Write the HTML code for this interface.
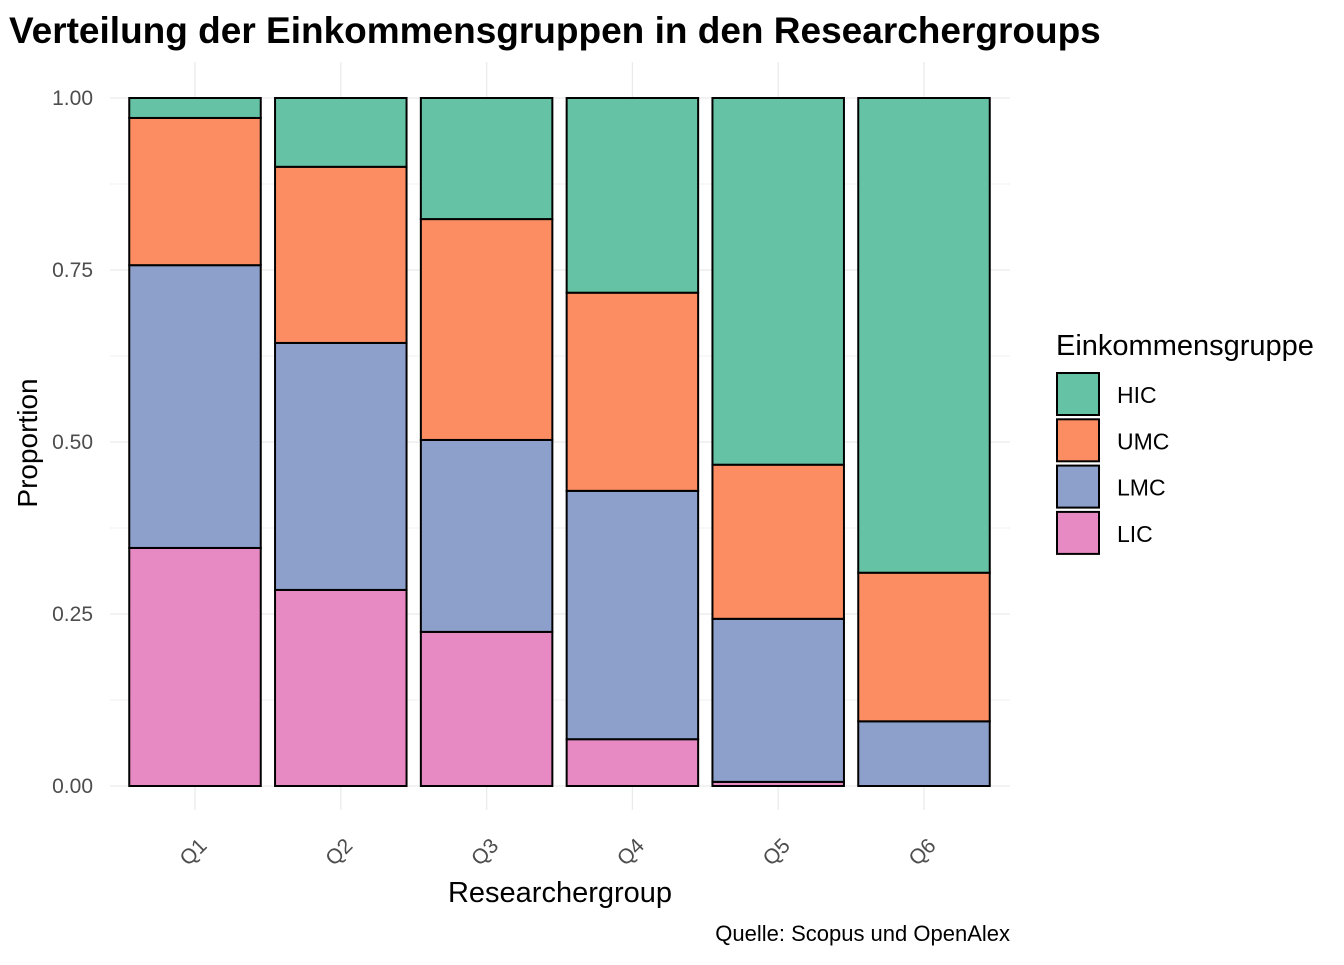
<!DOCTYPE html>
<html><head><meta charset="utf-8">
<style>
body{margin:0;background:#fff;font-family:"Liberation Sans",Arial,sans-serif;}
svg text{font-family:"Liberation Sans",Arial,sans-serif;}
</style></head>
<body>
<svg id="chart" width="1344" height="960" xmlns="http://www.w3.org/2000/svg">
<rect width="1344" height="960" fill="#fff"/>
<text x="9" y="43" font-size="37" font-weight="bold" fill="#000">Verteilung der Einkommensgruppen in den Researchergroups</text>
<g id="grid"></g>
<g id="bars"></g>
<g id="axes"></g>
<text x="560" y="902" font-size="29" text-anchor="middle" fill="#000">Researchergroup</text>
<text transform="translate(37,443) rotate(-90)" font-size="28" text-anchor="middle" fill="#000">Proportion</text>
<text x="1010" y="941" font-size="22" text-anchor="end" fill="#000">Quelle: Scopus und OpenAlex</text>
<g id="legend">
<text x="1056" y="355" font-size="29" fill="#000">Einkommensgruppe</text>
</g>
</svg>
<script>
const categories=["Q1","Q2","Q3","Q4","Q5","Q6"];
const groups=["LIC","LMC","UMC","HIC"];
const LIC=[0.346,0.285,0.224,0.068,0.006,0.0];
const LMC=[0.411,0.359,0.279,0.361,0.237,0.094];
const UMC=[0.214,0.256,0.321,0.288,0.224,0.216];
const HIC=[0.029,0.100,0.176,0.283,0.533,0.690];
const yTicks=[0,0.25,0.5,0.75,1];
const yTickLabels=["0.00","0.25","0.50","0.75","1.00"];
const legendOrder=["HIC","UMC","LMC","LIC"];

const colors={HIC:"#66c2a5",UMC:"#fc8d62",LMC:"#8da0cb",LIC:"#e78ac3"};
const series={LIC,LMC,UMC,HIC};
const NS="http://www.w3.org/2000/svg";
const plotL=110,plotR=1010,y0=786,y1=98;
const step=145.8, first=195;
const xC=i=>first+i*step;
const barW=131.5;
const y=v=>y0-(y0-y1)*v;
function mk(tag,attrs,parent){const e=document.createElementNS(NS,tag);for(const k in attrs)e.setAttribute(k,attrs[k]);parent.appendChild(e);return e;}
const grid=document.getElementById('grid'),bars=document.getElementById('bars'),axes=document.getElementById('axes'),legend=document.getElementById('legend');
for(let v=0;v<=1.0001;v+=0.125){
  const l=mk('line',{x1:plotL,x2:plotR,y1:y(v),y2:y(v),stroke:'#ebebeb','stroke-width':(Math.round(v*8)%2===0)?1.3:0.7},grid);
  
  
}
categories.forEach((c,i)=>{
  const l=mk('line',{x1:xC(i),x2:xC(i),y1:62,y2:810,stroke:'#ebebeb','stroke-width':1.3},grid);
  
  
});
categories.forEach((c,i)=>{
  let cum=0;
  groups.forEach(g=>{
    const v=series[g][i];
    const r=mk('rect',{x:xC(i)-barW/2,y:y(cum+v),width:barW,height:y(cum)-y(cum+v),fill:colors[g],stroke:'#000','stroke-width':2},bars);
    
    
    cum+=v;
  });
  const t=mk('text',{transform:`translate(${xC(i)+13},${847}) rotate(-45)`,'font-size':21,fill:'#4d4d4d','text-anchor':'end'},axes);
  t.textContent=c;
  
  
});
yTicks.forEach((v,k)=>{
  const t=mk('text',{x:93,y:y(v)+7,'font-size':21,fill:'#4d4d4d','text-anchor':'end'},axes);
  t.textContent=yTickLabels[k];
  
  
});
legendOrder.forEach((g,k)=>{
  const yy=373+k*46.3;
  const r=mk('rect',{x:1057,y:yy,width:42,height:42,fill:colors[g],stroke:'#000','stroke-width':2},legend);
  
  
  const t=mk('text',{x:1117,y:yy+30,'font-size':23,fill:'#000'},legend);
  t.textContent=g;
  
  
});
</script>
</body></html>
